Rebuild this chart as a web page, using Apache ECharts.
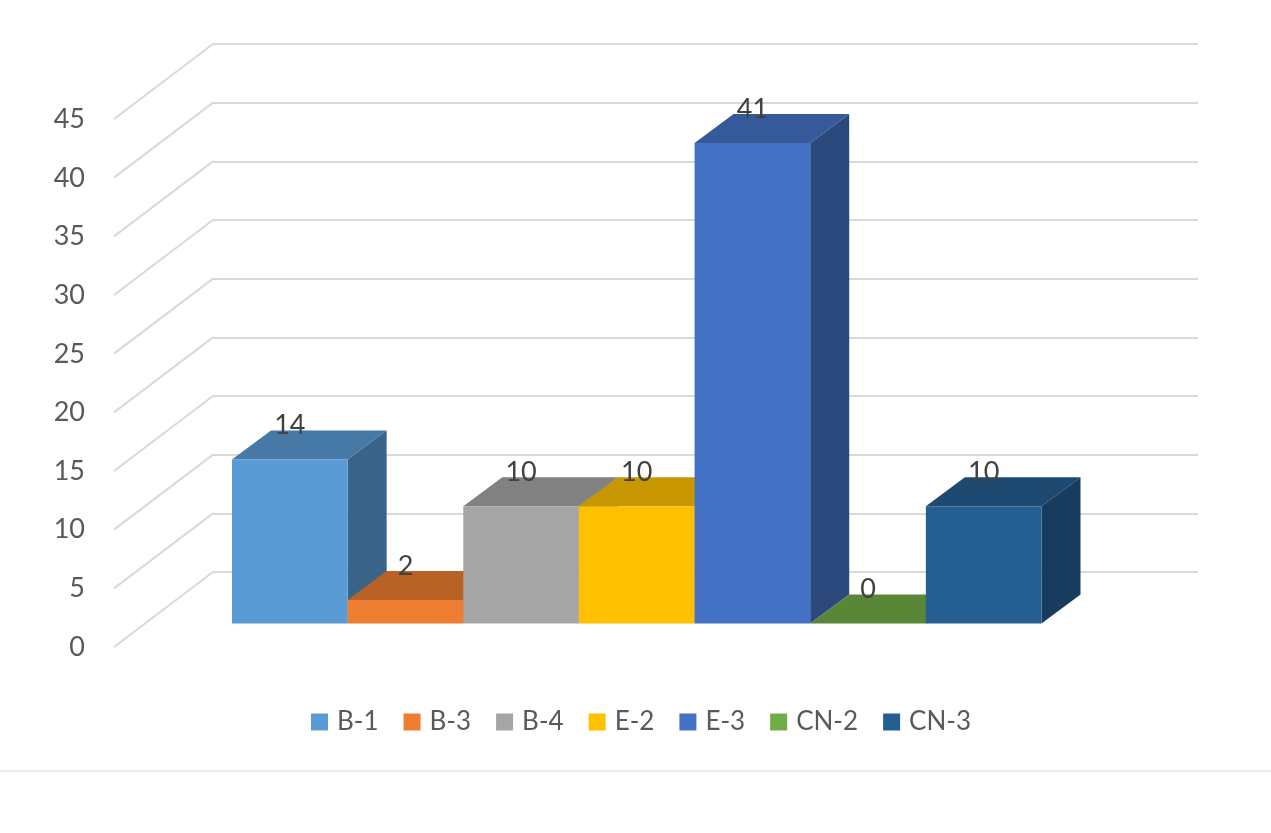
<!DOCTYPE html>
<html><head><meta charset="utf-8">
<script src="https://cdn.jsdelivr.net/npm/echarts@6/dist/echarts.min.js"></script>
<style>html,body{margin:0;padding:0;background:#fff}#c{width:1271px;height:833px}</style>
</head><body><div id="c"></div>
<script>
const categories = ['B-1', 'B-3', 'B-4', 'E-2', 'E-3', 'CN-2', 'CN-3'];
const values = [14, 2, 10, 10, 41, 0, 10];
const colors = ['#5B9BD5', '#ED7D31', '#A5A5A5', '#FFC000', '#4472C4', '#70AD47', '#255E91'];
const tickValues = [0, 5, 10, 15, 20, 25, 30, 35, 40, 45];

const FONT = 'Lato, "Open Sans", sans-serif';
const DX = 39, DY = 29;          // bar depth offset (perspective)
const WALL_DX = 99, WALL_DY = 75; // side wall depth

function shade(hex, f) {
  const n = parseInt(hex.slice(1), 16);
  const r = Math.round(((n >> 16) & 255) * f), g = Math.round(((n >> 8) & 255) * f), b = Math.round((n & 255) * f);
  return 'rgb(' + r + ',' + g + ',' + b + ')';
}

function makeBarRenderer(color) {
  return function (params, api) {
    const ci = api.value(0), v = api.value(1);
    const p0 = api.coord([ci, 0]), p1 = api.coord([ci, v]);
    const w = api.size([1, 0])[0];
    const xl = p0[0] - w / 2, xr = p0[0] + w / 2, yb = p0[1], yt = p1[1];
    return {
      type: 'group',
      children: [
        { type: 'polygon', shape: { points: [[xr, yb], [xr + DX, yb - DY], [xr + DX, yt - DY], [xr, yt]] }, style: { fill: shade(color, 0.64) } },
        { type: 'polygon', shape: { points: [[xl, yt], [xl + DX, yt - DY], [xr + DX, yt - DY], [xr, yt]] }, style: { fill: shade(color, 0.78) } },
        { type: 'rect', shape: { x: xl, y: yt, width: w, height: yb - yt }, style: { fill: color } },
        { type: 'text', z2: 100, x: p0[0], y: yt - 34, style: { text: String(v), font: '27px ' + FONT, fill: '#404040', align: 'center', verticalAlign: 'middle' } }
      ]
    };
  };
}

const barSeries = categories.map((name, i) => ({
  name: name,
  type: 'custom',
  xAxisIndex: 0, yAxisIndex: 0,
  itemStyle: { color: colors[i] },
  encode: { x: 0, y: 1 },
  data: [[i, values[i]]],
  renderItem: makeBarRenderer(colors[i]),
  z: 10
}));

const wallSeries = {
  type: 'custom',
  xAxisIndex: 1, yAxisIndex: 1,
  silent: true,
  encode: { x: 0, y: 1 },
  data: tickValues.map(v => [0, v]),
  renderItem: function (params, api) {
    const p = api.coord([0, api.value(1)]);
    return { type: 'line', shape: { x1: p[0], y1: p[1], x2: p[0] - WALL_DX, y2: p[1] + WALL_DY }, style: { stroke: '#D9D9D9', lineWidth: 2 } };
  },
  z: 1
};

const chart = echarts.init(document.getElementById('c'), null, { renderer: 'canvas' });
chart.setOption({
  backgroundColor: '#ffffff',
  animation: false,
  grid: [
    { left: 232, right: 229.5, top: 96, bottom: 209.5, outerBoundsMode: 'none' },
    { left: 213, right: 73, top: 44, bottom: 261, outerBoundsMode: 'none' },
    { left: 114, right: 1100, top: 119.4, bottom: 186, outerBoundsMode: 'none' }
  ],
  xAxis: [
    { gridIndex: 0, type: 'category', data: categories, show: false, boundaryGap: true },
    { gridIndex: 1, type: 'value', min: 0, max: 1, show: false },
    { gridIndex: 2, type: 'value', min: 0, max: 1, show: false }
  ],
  yAxis: [
    { gridIndex: 0, type: 'value', min: 0, max: 45, interval: 5, show: false },
    { gridIndex: 1, type: 'value', min: 0, max: 45, interval: 5,
      axisLine: { show: false }, axisTick: { show: false }, axisLabel: { show: false },
      splitLine: { show: true, lineStyle: { color: '#D9D9D9', width: 2 } } },
    { gridIndex: 2, type: 'value', min: 0, max: 45, interval: 5,
      axisLine: { show: false }, axisTick: { show: false }, splitLine: { show: false },
      axisLabel: { show: true, margin: 29, color: '#595959', fontSize: 27, fontFamily: FONT, padding: [4, 0, 0, 0] } }
  ],
  legend: {
    data: categories,
    left: 311, top: 709, padding: 0,
    icon: 'rect', itemWidth: 17, itemHeight: 17, itemGap: 25,
    textStyle: { color: '#595959', fontSize: 26, fontFamily: FONT, padding: [0, 0, 0, 4] },
    selectedMode: false
  },
  graphic: [
    { type: 'line', shape: { x1: 0, y1: 771, x2: 1271, y2: 771 }, style: { stroke: '#D9D9D9', lineWidth: 1 }, silent: true }
  ],
  series: [wallSeries].concat(barSeries)
});
</script>
</body></html>
